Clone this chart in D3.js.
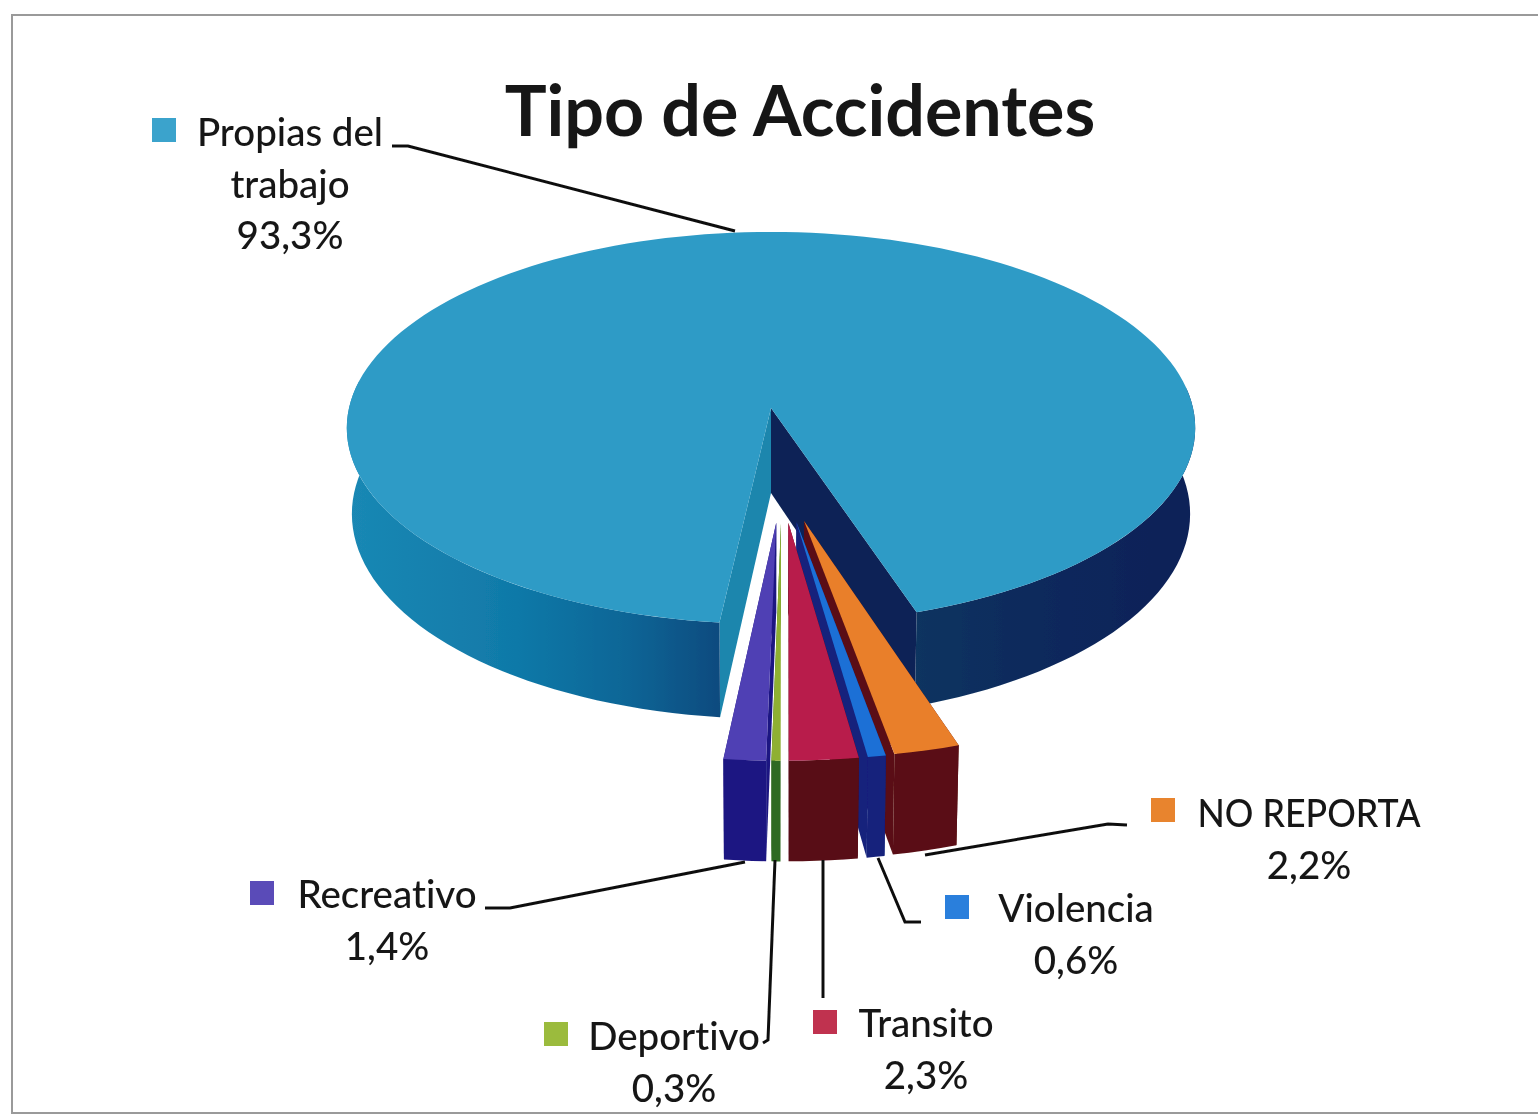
<!DOCTYPE html>
<html>
<head>
<meta charset="utf-8">
<script src="https://cdn.jsdelivr.net/npm/d3@7"></script>
<style>
body { margin: 0; background: #fff; }
text { font-family: Lato, "Open Sans", sans-serif; fill: #161616; font-variant-ligatures: none; }
</style>
</head>
<body>
<svg width="1538" height="1117"></svg>
<script>
// values, clockwise starting from the big slice
const categories = ["Propias del trabajo", "NO REPORTA", "Violencia", "Transito", "Deportivo", "Recreativo"]
const values = [93.3, 2.2, 0.6, 2.3, 0.3, 1.4]

const topColors = ["#2f9bc6", "#e97f2c", "#1b6fd6", "#b81c4c", "#8fb033", "#5040b4"]
const wallColors = ["#0e5f90", "#5a1014", "#14207c", "#590b14", "#2f6a22", "#1d1682"]
const keyColors = ["#3aa3cc", "#e8842f", "#2a7fdc", "#c0304f", "#9bbb3c", "#5a4cb8"]

// label layout: key box, text centre, first baseline, leader line
const labelLayout = [
  { key: [152, 118], cx: 290, y: 146, lines: ["Propias del", "trabajo"], leader: [[392, 146], [408, 146], [735, 231]] },
  { key: [1151, 798], cx: 1309, y: 827, lines: ["NO REPORTA"], fit: 223, leader: [[1127, 825], [1108, 824], [925, 855]] },
  { key: [945, 895], cx: 1076, y: 922, lines: ["Violencia"], leader: [[921, 922], [905, 922], [878, 858]] },
  { key: [813, 1010], cx: 926, y: 1037, lines: ["Transito"], leader: [[823, 998], [823, 860]] },
  { key: [544, 1022], cx: 674, y: 1050, lines: ["Deportivo"], leader: [[763, 1043], [768, 1040], [775, 860]] },
  { key: [250, 881], cx: 387, y: 908, lines: ["Recreativo"], leader: [[485, 908], [510, 908], [745, 862]] }
]

const svg = d3.select("svg")
const rad = Math.PI / 180

const pie = d3.pie().value(d => d).sort(null)
  .startAngle(186.3 * rad)
  .endAngle(546.3 * rad)
const arcs = pie(values)

// perspective of the tilted disc: u to the right, v towards the viewer, z 0=top 1=bottom
const cx = 771, y0 = 408, A = 422, B = 194, k = 0.102, h = 85
function proj(u, v, z) {
  const w = 1 - k * v
  return [cx + A * u * (1 - 0.012 * z) / w, y0 + (B * v + h * z) / w]
}

const line = d3.line()
function rim(c, a0, a1, r, z) {
  const n = Math.max(2, Math.ceil(Math.abs(a1 - a0) / rad / 2))
  return d3.range(n + 1).map(i => {
    const a = a0 + (a1 - a0) * i / n
    return proj(c[0] + r * Math.sin(a), c[1] - r * Math.cos(a), z)
  })
}
function closed(pts) { return line(pts) + "Z" }

// gradients
const defs = svg.append("defs")
const leftGrad = defs.append("linearGradient").attr("id", "leftWall")
  .attr("gradientUnits", "userSpaceOnUse")
  .attr("x1", 350).attr("x2", 722).attr("y1", 0).attr("y2", 0)
leftGrad.selectAll("stop")
  .data([[0, "#1a88b4"], [0.45, "#1079a8"], [0.75, "#0e6596"], [1, "#0c4a7e"]])
  .join("stop")
  .attr("offset", d => d[0])
  .attr("stop-color", d => d[1])
const rightGrad = defs.append("linearGradient").attr("id", "rightWall")
  .attr("gradientUnits", "userSpaceOnUse")
  .attr("x1", 915).attr("x2", 1195).attr("y1", 0).attr("y2", 0)
rightGrad.selectAll("stop")
  .data([[0, "#0b3460"], [0.4, "#0b2a5c"], [1, "#0c2058"]])
  .join("stop")
  .attr("offset", d => d[0])
  .attr("stop-color", d => d[1])
defs.append("filter").attr("id", "soft")
  .append("feGaussianBlur").attr("stdDeviation", 0.7)

const root = svg.append("g").attr("filter", "url(#soft)")

// scanned frame
root.append("path")
  .attr("d", "M1538,15H12V1113H1538")
  .attr("fill", "none")
  .attr("stroke", "#9a9a9a")
  .attr("stroke-width", 2)

// big slice
const main = arcs[0]
const mc = [0, 0]
const g = root.append("g")
function cutFace(a, fill) {
  const top = rim(mc, a, a, 1, 0)[0]
  const bot = rim(mc, a, a, 1, 1)[0]
  g.append("path")
    .attr("d", closed([proj(0, 0, 0), top, bot, proj(0, 0, 1)]))
    .attr("fill", fill)
}
cutFace(main.startAngle, "#1a86ad")
cutFace(main.endAngle, "#0b2456")

function wall(a0, a1, fill) {
  g.append("path")
    .attr("d", closed(rim(mc, a0, a1, 1, 0).concat(rim(mc, a1, a0, 1, 1))))
    .attr("fill", fill)
}
wall(main.startAngle, 278 * rad, "url(#leftWall)")
wall(444 * rad, main.endAngle, "url(#rightWall)")

g.append("path")
  .attr("d", closed([proj(0, 0, 0)].concat(rim(mc, main.startAngle, main.endAngle, 1, 0))))
  .attr("fill", topColors[0])

// small slices pulled out of the common centre
const explode = 0.28
const fanX = 0.2
const midMain = (main.startAngle + main.endAngle) / 2
const centre = [explode * -Math.sin(midMain) - 0.004, explode * Math.cos(midMain)]
const drawOrder = [1, 2, 3, 5, 4]

drawOrder.forEach(idx => {
  const d = arcs[idx]
  const mid = (d.startAngle + d.endAngle) / 2
  const c = [centre[0] + fanX * Math.sin(mid), centre[1] - explode * Math.cos(mid)]
  const r = 0.975
  const s = root.append("g")
  ;[d.startAngle, d.endAngle].forEach(a => {
    s.append("path")
      .attr("d", closed([proj(c[0], c[1], 0), rim(c, a, a, r, 0)[0], rim(c, a, a, r, 1)[0], proj(c[0], c[1], 1)]))
      .attr("fill", wallColors[idx])
  })
  s.append("path")
    .attr("d", closed(rim(c, d.startAngle, d.endAngle, r, 0).concat(rim(c, d.endAngle, d.startAngle, r, 1))))
    .attr("fill", wallColors[idx])
  s.append("path")
    .attr("d", closed([proj(c[0], c[1], 0)].concat(rim(c, d.startAngle, d.endAngle, r, 0))))
    .attr("fill", topColors[idx])
})

// leader lines
root.append("g").selectAll("path")
  .data(labelLayout)
  .join("path")
  .attr("d", d => line(d.leader))
  .attr("fill", "none")
  .attr("stroke", "#111")
  .attr("stroke-width", 3)

// legend keys
root.append("g").selectAll("rect")
  .data(labelLayout)
  .join("rect")
  .attr("x", d => d.key[0])
  .attr("y", d => d.key[1])
  .attr("width", 24)
  .attr("height", 24)
  .attr("fill", (d, i) => keyColors[i])

// labels
const labels = root.append("g").selectAll("text")
  .data(labelLayout)
  .join("text")
  .attr("text-anchor", "middle")
  .attr("font-size", 38.5)
  .attr("font-weight", 500)
labels.each(function (d, i) {
  const t = d3.select(this)
  const rows = d.lines.concat(values[i].toFixed(1).replace(".", ",") + "%")
  rows.forEach((row, j) => {
    const s = t.append("tspan")
      .attr("x", d.cx)
      .attr("y", d.y + j * 51.5)
      .text(row)
    if (d.fit && j == 0) s.attr("textLength", d.fit).attr("lengthAdjust", "spacingAndGlyphs")
  })
})

root.append("text")
  .attr("x", 800)
  .attr("y", 136)
  .attr("text-anchor", "middle")
  .attr("font-size", 70)
  .attr("font-weight", 700)
  .attr("fill", "#0a0a0a")
  .text("Tipo de Accidentes")
</script>
</body>
</html>
